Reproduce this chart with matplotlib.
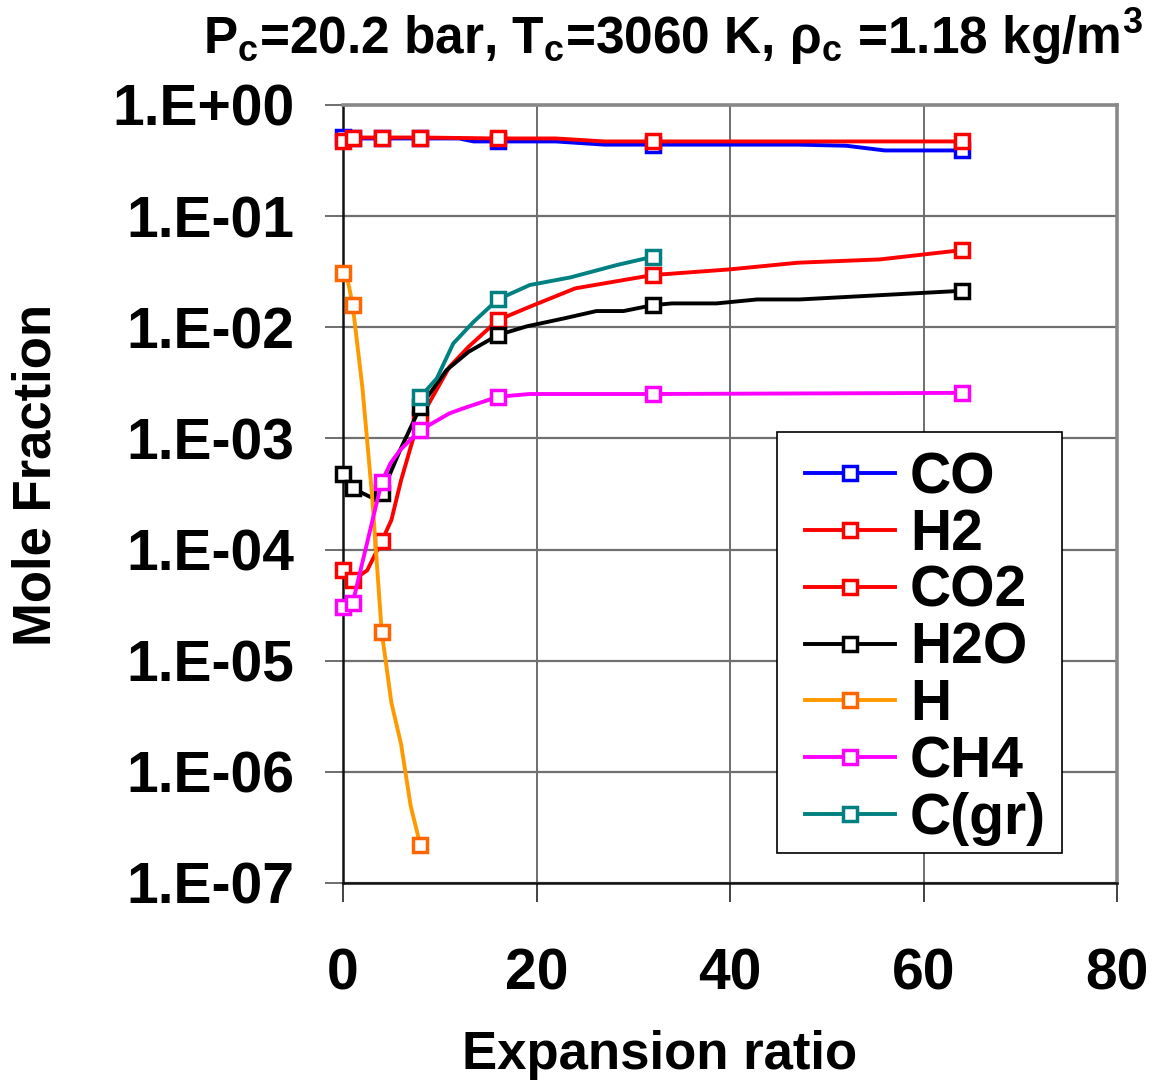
import matplotlib
matplotlib.use('Agg')
import matplotlib.pyplot as plt
from matplotlib.patches import Rectangle

plt.rcParams['font.family'] = ['Liberation Sans', 'DejaVu Sans']
plt.rcParams['font.weight'] = 'bold'
plt.rcParams['mathtext.fontset'] = 'custom'
plt.rcParams['mathtext.bf'] = 'Liberation Sans:bold'
plt.rcParams['mathtext.rm'] = 'Liberation Sans:bold'
plt.rcParams['mathtext.it'] = 'Liberation Sans:bold'
plt.rcParams['mathtext.default'] = 'bf'

# ---------------- data ----------------
marker_x = [0, 1, 4, 8, 16, 32, 64]

co_x = [0, 1, 4, 8, 12, 13.5, 16, 22, 27, 32, 47, 52, 56, 64]
co_y = [0.52, 0.50, 0.50, 0.50, 0.50, 0.47, 0.47, 0.47, 0.44, 0.44, 0.44, 0.43, 0.39, 0.39]

h2_x = [0, 1, 4, 8, 16, 22, 27, 32, 64]
h2_y = [0.47, 0.51, 0.51, 0.51, 0.50, 0.50, 0.47, 0.47, 0.47]

co2_x = [0, 1, 2.5, 4, 5, 6, 7.3, 8, 11, 13, 16, 19.3, 24, 32, 40, 47, 55.5, 64]
co2_y = [6.5e-5, 5.3e-5, 6.5e-5, 1.19e-4, 1.84e-4, 4.2e-4, 1.03e-3, 1.51e-3, 4.4e-3,
         6.7e-3, 1.16e-2, 1.53e-2, 2.24e-2, 2.95e-2, 3.32e-2, 3.81e-2, 4.08e-2, 4.95e-2]

h2o_x = [0, 1, 2.8, 4, 5.9, 8, 10.7, 13, 16, 19, 22.8, 26.2, 29, 32, 34, 38.6, 42.8, 47.2, 64]
h2o_y = [4.74e-4, 3.55e-4, 2.98e-4, 3.2e-4, 7.85e-4, 1.93e-3, 4.12e-3, 6.03e-3, 8.51e-3,
         1.02e-2, 1.20e-2, 1.40e-2, 1.40e-2, 1.58e-2, 1.64e-2, 1.64e-2, 1.78e-2, 1.78e-2, 2.13e-2]

h_x = [0, 0.55, 1, 2, 3, 4, 5, 6, 7, 8]
h_y = [3.1e-2, 2.5e-2, 1.58e-2, 2.9e-3, 3.1e-4, 1.82e-5, 4.2e-6, 1.78e-6, 4.9e-7, 2.19e-7]

ch4_x = [0, 1, 4, 4.9, 5.9, 8, 11, 12.4, 16, 19.3, 32, 64]
ch4_y = [3.05e-5, 3.3e-5, 4.07e-4, 5.96e-4, 7.85e-4, 1.19e-3, 1.68e-3, 1.86e-3,
         2.37e-3, 2.51e-3, 2.51e-3, 2.57e-3]

cgr_x = [8, 9.7, 11.4, 13.5, 16, 19.3, 23.5, 28.3, 32]
cgr_y = [2.37e-3, 3.47e-3, 7.16e-3, 1.12e-2, 1.78e-2, 2.40e-2, 2.81e-2, 3.63e-2, 4.31e-2]

series_names = ['CO', 'H2', 'CO2', 'H2O', 'H', 'CH4', 'C(gr)']
series_x = [co_x, h2_x, co2_x, h2o_x, h_x, ch4_x, cgr_x]
series_y = [co_y, h2_y, co2_y, h2o_y, h_y, ch4_y, cgr_y]
line_colors = ['#0000FF', '#FF0000', '#FF0000', '#000000', '#FF9900', '#FF00FF', '#008080']
marker_colors = ['#0000FF', '#FF0000', '#FF0000', '#000000', '#FF6600', '#FF00FF', '#008080']

y_ticks = [1e-7, 1e-6, 1e-5, 1e-4, 1e-3, 1e-2, 1e-1, 1e0]
y_tick_labels = ['1.E-07', '1.E-06', '1.E-05', '1.E-04', '1.E-03', '1.E-02', '1.E-01', '1.E+00']
x_ticks = [0, 20, 40, 60, 80]
x_tick_labels = ['0', '20', '40', '60', '80']

title_text = r'P$_{c}$=20.2 bar, T$_{c}$=3060 K, ρ$_{c}$ =1.18 kg/m$^{3}$'

# ---------------- figure ----------------
W, H = 1160, 1082
fig = plt.figure(figsize=(W / 100, H / 100), dpi=100)
L, R, T, B = 343, 1117, 105, 883
ax = fig.add_axes([L / W, 1 - B / H, (R - L) / W, (B - T) / H])

ax.set_yscale('log')
ax.set_xlim(0, 80)
ax.set_ylim(1e-7, 1e0)

for name, xs, ys, lc, mc in zip(series_names, series_x, series_y, line_colors, marker_colors):
    me = [i for i, xv in enumerate(xs) if xv in marker_x]
    ax.plot(xs, ys, color=lc, lw=2.8, marker='s', markersize=9.5,
            markeredgewidth=2.5, markeredgecolor=mc, markerfacecolor='white',
            markevery=me, label=name, clip_on=False, zorder=3)

ax.set_yticks(y_ticks)
ax.set_yticklabels(y_tick_labels)
ax.yaxis.set_minor_locator(matplotlib.ticker.NullLocator())
ax.set_xticks(x_ticks)
ax.set_xticklabels(x_tick_labels)

ax.tick_params(axis='y', direction='out', length=13, width=1.2, color='#555555',
               labelsize=41, pad=22)
ax.tick_params(axis='x', direction='out', length=13.5, width=1.2, color='#222222',
               labelsize=41, pad=33)
for lab in ax.get_xticklabels() + ax.get_yticklabels():
    lab.set_fontweight('bold')

ax.grid(True, which='major', axis='y', color='#707070', lw=1.6, zorder=1)
ax.grid(True, which='major', axis='x', color='#555555', lw=1.2, zorder=1)
ax.set_axisbelow(True)

for s in ['top', 'right']:
    ax.spines[s].set_color('#888888')
    ax.spines[s].set_linewidth(2.6)
for s in ['left', 'bottom']:
    ax.spines[s].set_color('#111111')
    ax.spines[s].set_linewidth(1.8)
    ax.spines[s].set_zorder(2.5)

ax.set_ylabel('Mole Fraction', fontsize=38, fontweight='bold', va='center')
ax.yaxis.set_label_coords((37 - L) / (R - L), (B - 475) / (B - T))
ax.set_xlabel('Expansion ratio', fontsize=38, fontweight='bold', va='center')
ax.xaxis.set_label_coords((660 - L) / (R - L), (B - 1055) / (B - T))

fig.text(1143 / W, 1 - 37 / H, title_text, fontsize=37, fontweight='bold',
         ha='right', va='center')

# legend frame
rect = Rectangle((777 / W, 1 - 853 / H), (1062 - 777) / W, (853 - 432) / H,
                 transform=fig.transFigure, facecolor='white', edgecolor='black',
                 lw=1.2, zorder=4)
ax.add_artist(rect)
leg = ax.legend(loc='upper left', bbox_to_anchor=(805 / W, 1 - 451 / H),
                bbox_transform=fig.transFigure, frameon=False, fontsize=41,
                numpoints=1, handlelength=1.58, handletextpad=0.26,
                labelspacing=0.05, borderpad=0, borderaxespad=0)
leg.set_zorder(5)
for t in leg.get_texts():
    t.set_fontweight('bold')

fig.savefig('out.png', dpi=100)
